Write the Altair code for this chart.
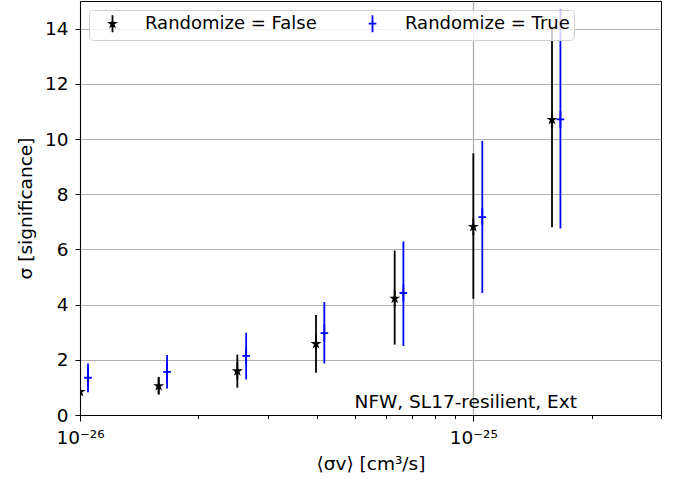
import altair as alt
import pandas as pd

# ---- data ----
series_names = ["Randomize = False", "Randomize = True"]

x_false = [1.0e-26, 1.585e-26, 2.512e-26, 3.981e-26, 6.310e-26, 1.0e-25, 1.585e-25]
y_false = [0.84, 1.05, 1.59, 2.58, 4.22, 6.82, 10.70]
lo_false = [0.72, 0.75, 0.99, 1.53, 2.55, 4.21, 6.80]
hi_false = [0.96, 1.38, 2.19, 3.62, 5.96, 9.48, 14.00]

x_true = [1.048e-26, 1.665e-26, 2.645e-26, 4.18e-26, 6.64e-26, 1.054e-25, 1.665e-25]
y_true = [1.35, 1.56, 2.14, 2.97, 4.42, 7.17, 10.71]
lo_true = [0.82, 0.96, 1.29, 1.87, 2.50, 4.42, 6.76]
hi_true = [1.87, 2.17, 2.98, 4.09, 6.29, 9.93, 14.69]

x_ticks = [1e-26, 2e-26, 3e-26, 4e-26, 5e-26, 6e-26, 7e-26, 8e-26, 9e-26,
           1e-25, 2e-25, 3e-25]
y_ticks = [0, 2, 4, 6, 8, 10, 12, 14]
annotation = ["NFW, SL17-resilient, Ext"]

rows = []
for name, xs, ys, los, his in [
    (series_names[0], x_false, y_false, lo_false, hi_false),
    (series_names[1], x_true, y_true, lo_true, hi_true),
]:
    for x, y, lo, hi in zip(xs, ys, los, his):
        rows.append({"series": name, "x": x, "y": y, "lo": lo, "hi": hi})
df = pd.DataFrame(rows)

FONT = "DejaVu Sans"
FS = 18.5

star = ("M0,-1L0,1M0,-0.34L0.077,-0.105L0.323,-0.105L0.123,0.04L0.2,0.275"
        "L0,0.13L-0.2,0.275L-0.123,0.04L-0.323,-0.105L-0.077,-0.105Z")
tick = "M0,-1L0,1M-0.45,0L0.45,0"

major = "abs(log(datum.value)/LN10 - round(log(datum.value)/LN10)) < 0.001"

xscale = alt.Scale(type="log", domain=[1e-26, 3e-25], nice=False)
yscale = alt.Scale(domain=[0, 15], nice=False)

xaxis = alt.Axis(
    values=x_ticks,
    labelExpr="datum.value < 1.5e-26 ? '10⁻²⁶' : (abs(datum.value - 1e-25) < 1e-27 ? '10⁻²⁵' : '')",
    title="⟨σv⟩ [cm³/s]",
    tickSize={"condition": {"test": major, "value": 6}, "value": 3.5},
    grid=True,
    gridColor="#b0b0b0",
    gridWidth=1.3,
    gridOpacity={"condition": {"test": major, "value": 1}, "value": 0},
    labelPadding=7,
    titlePadding=8,
    labelFlush=False,
    labelOverlap=False,
)
yaxis = alt.Axis(
    values=y_ticks,
    title="σ [significance]",
    tickSize=5,
    labelPadding=7,
    titlePadding=9,
    grid=True,
    gridColor="#b0b0b0",
    gridWidth=1,
    labelFlush=False,
)

color_scale = alt.Scale(domain=series_names, range=["black", "blue"])
shape_scale = alt.Scale(domain=series_names, range=[star, tick])

legend = alt.Legend(
    title=None,
    orient="none",
    legendX=9,
    legendY=9,
    direction="horizontal",
    labelFont=FONT,
    labelFontSize=18,
    labelColor="black",
    labelLimit=400,
    labelOffset=23,
    symbolOffset=10,
    columnPadding=36,
    padding=4,
    symbolSize=289,
    symbolStrokeWidth=1.8,
    strokeColor="#d0d0d0",
    fillColor="rgba(255,255,255,0.8)",
    cornerRadius=4,
)

base = alt.Chart(df)

bars = base.mark_rule(strokeWidth=1.8, clip=True).encode(
    x=alt.X("x:Q", scale=xscale, axis=xaxis),
    y=alt.Y("lo:Q", scale=yscale, axis=yaxis),
    y2="hi:Q",
    color=alt.Color("series:N", scale=color_scale),
)

points = base.mark_point(filled=False, strokeWidth=1.8, size=289, opacity=1, clip=True).encode(
    x=alt.X("x:Q", scale=xscale),
    y=alt.Y("y:Q", scale=yscale),
    color=alt.Color("series:N", scale=color_scale, legend=legend),
    shape=alt.Shape("series:N", scale=shape_scale, legend=legend),
)

text = alt.Chart(pd.DataFrame({"t": annotation})).mark_text(
    align="right", baseline="alphabetic", font=FONT, fontSize=FS, color="black"
).encode(x=alt.value(497), y=alt.value(407), text="t:N")

chart = alt.layer(bars, points, text).properties(
    width=581,
    height=414,
    padding={"left": 80, "top": 1, "right": 21, "bottom": 67},
    autosize=alt.AutoSizeParams(type="none"),
).configure_axis(
    labelFont=FONT,
    labelFontSize=FS,
    titleFont=FONT,
    titleFontSize=FS,
    titleFontWeight="normal",
    labelColor="black",
    titleColor="black",
    domainColor="black",
    tickColor="black",
    domainWidth=1,
    tickWidth=1,
).configure_view(
    stroke="black",
    strokeWidth=1,
)

chart.save("out.html", embed_options={"renderer": "svg", "actions": False})
